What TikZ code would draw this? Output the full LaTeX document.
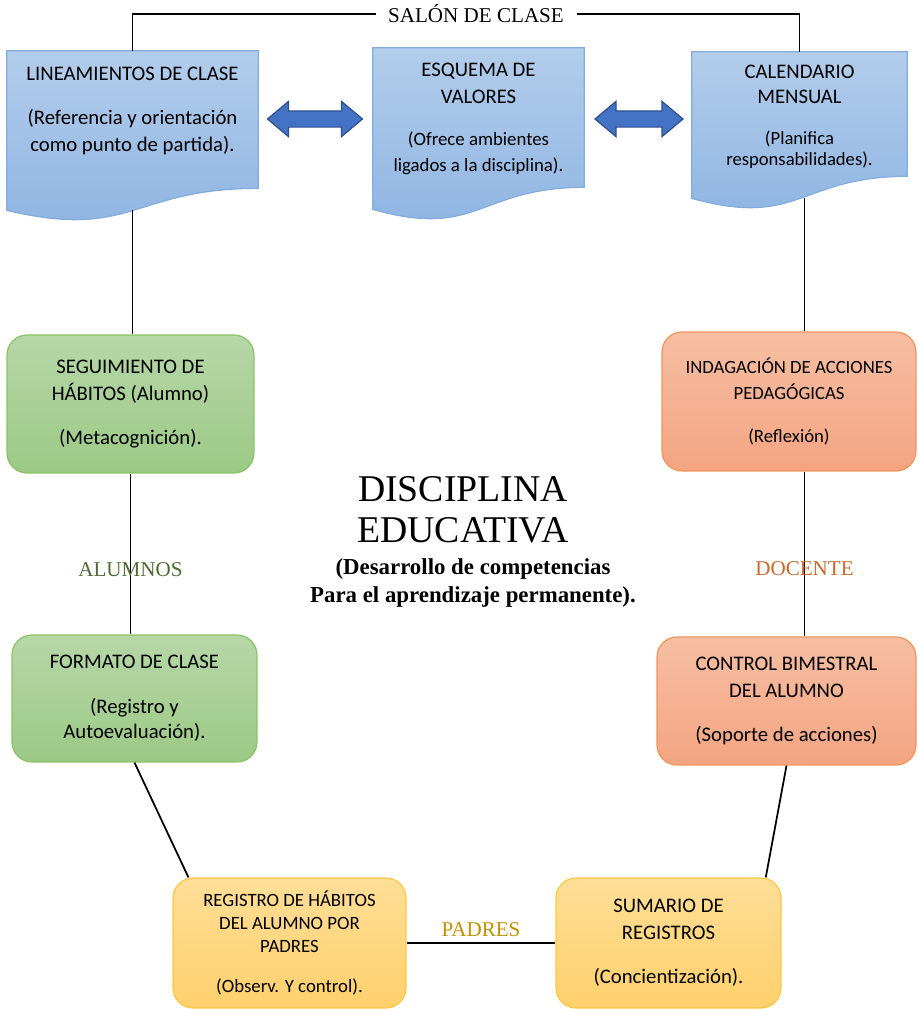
\documentclass[tikz,border=0pt]{standalone}
\usepackage{fontspec}
\setmainfont{Liberation Serif}
\newfontfamily\boxfont{Carlito}
\usetikzlibrary{shapes.arrows,positioning,calc}
\definecolor{bluetop}{HTML}{B3CDEB}
\definecolor{bluebot}{HTML}{8DB3E2}
\definecolor{blueline}{HTML}{84ACDD}
\definecolor{greentop}{HTML}{B6D7A8}
\definecolor{greenbot}{HTML}{9CC985}
\definecolor{greenline}{HTML}{8CC168}
\definecolor{orangetop}{HTML}{F6BEA2}
\definecolor{orangebot}{HTML}{F4A582}
\definecolor{orangeline}{HTML}{F0955A}
\definecolor{yellowtop}{HTML}{FFDE97}
\definecolor{yellowbot}{HTML}{FFD06C}
\definecolor{yellowline}{HTML}{FBC745}
\definecolor{arrowblue}{HTML}{4472C4}
\definecolor{arrowline}{HTML}{2F528F}
\definecolor{alumgreen}{HTML}{4F6B33}
\definecolor{docorange}{HTML}{C8682C}
\definecolor{padgold}{HTML}{BF9000}
\tikzset{
  box/.style={align=center, inner sep=2pt, font=\boxfont\fontsize{11.8}{15.3}\selectfont},
  roundbox/.style={box, rounded corners=0.4cm, line width=0.7pt},
  greenbox/.style={roundbox, draw=greenline, top color=greentop, bottom color=greenbot},
  orangebox/.style={roundbox, draw=orangeline, top color=orangetop, bottom color=orangebot},
  yellowbox/.style={roundbox, draw=yellowline, top color=yellowtop, bottom color=yellowbot},
  docgeom/.style={inner sep=0pt},
  docfill/.style={draw=blueline, line width=0.7pt, top color=bluetop, bottom color=bluebot},
  dblarrow/.style={double arrow, double arrow head extend=0.19cm, double arrow tip angle=80,
                   inner xsep=0pt, inner ysep=0.15cm, fill=arrowblue, draw=arrowline, line width=0.7pt},
  lab/.style={font=\fontsize{12}{14}\selectfont},
  conn/.style={line width=1pt},
}
\newcommand{\docshape}[1]{\path[docfill] (#1.north west) -- (#1.north east) -- ([yshift=0.44cm]#1.south east)
  .. controls ([yshift=0.44cm]#1.south) and ([yshift=-0.6cm]#1.south) .. (#1.south west) -- cycle;}
\begin{document}
\begin{tikzpicture}[x=0.02cm, y=-0.02cm]
\useasboundingbox (0,0) rectangle (918,1009);
% documentos de arriba
\node[docgeom, minimum width=5.02cm, minimum height=3.18cm] (lin) at (132.5,130.5) {};
\node[docgeom, minimum width=4.22cm, minimum height=3.22cm] (esq) at (478.5,128.5) {};
\node[docgeom, minimum width=4.30cm, minimum height=2.92cm] (cal) at (799.5,125) {};
\docshape{lin}
\docshape{esq}
\docshape{cal}
\node[box, below=0.26cm of lin.north] (linT) {LINEAMIENTOS DE CLASE\\[9.7pt](Referencia y orientación\\como punto de partida).};
\node[box, below=0.24cm of esq.north] (esqT) {ESQUEMA DE\\VALORES\\[8.5pt]\fontsize{10.7}{12}\selectfont(Ofrece ambientes\\[-0.6pt]\fontsize{10.7}{12}\selectfont ligados a la disciplina).};
\node[box, font=\boxfont\fontsize{11.8}{14.2}\selectfont, below=0.2cm of cal.north] (calT) {CALENDARIO\\MENSUAL\\[9pt]\fontsize{10.6}{12}\selectfont(Planifica\\[-2.3pt]\fontsize{10.6}{12}\selectfont responsabilidades).};
\node[dblarrow, minimum height=1.9cm] (arr1) at (315,119) {};
\node[dblarrow, minimum height=1.76cm] (arr2) at (639,119) {};
\node[lab, inner xsep=7pt] (salon) at (476,14) {SALÓN DE CLASE};
% cuadros de los lados
\node[greenbox, minimum width=4.94cm, minimum height=2.76cm] (seg) at (130.5,404) {SEGUIMIENTO DE\\HÁBITOS (Alumno)\\[10pt](Metacognición).};
\node[greenbox, minimum width=4.90cm, minimum height=2.54cm] (form) at (134.5,698.5) {FORMATO DE CLASE\\[10pt](Registro y\\[-0.6pt]Autoevaluación).};
\node[orangebox, font=\boxfont\fontsize{10.65}{14.7}\selectfont, minimum width=5.08cm, minimum height=2.78cm] (ind) at (789,401.5) {INDAGACIÓN DE ACCIONES\\PEDAGÓGICAS\\[9.7pt](Reflexión)};
\node[orangebox, minimum width=5.18cm, minimum height=2.56cm] (ctrl) at (786.5,701) {CONTROL BIMESTRAL\\DEL ALUMNO\\[10pt](Soporte de acciones)};
\node[yellowbox, font=\boxfont\fontsize{10.7}{13.3}\selectfont, minimum width=4.66cm, minimum height=2.6cm] (reg) at (289.5,943) {REGISTRO DE HÁBITOS\\DEL ALUMNO POR\\PADRES\\[9.4pt](Observ. Y control).};
\node[yellowbox, minimum width=4.5cm, minimum height=2.6cm] (sum) at (668.5,943) {SUMARIO DE\\REGISTROS\\[10pt](Concientización).};
% centro
\node[font=\fontsize{21.5}{23.2}\selectfont, align=center] (disc) at (463,510) {DISCIPLINA\\EDUCATIVA};
\node[font=\bfseries\fontsize{13}{15.9}\selectfont, align=center] (dsub) at (473,583) {(Desarrollo de competencias\\Para el aprendizaje permanente).};
% lineas
\draw[conn] (lin.north) |- (salon.west);
\draw[conn] (salon.east) -| (cal.north);
\draw[conn] (lin.south) -- (lin.south |- seg.north);
\draw[conn] ([xshift=0.1cm]cal.south) -- ([xshift=0.1cm]cal.south |- ind.north);
\draw[conn] (seg.south) -- node[lab, pos=0.6, text=alumgreen]{ALUMNOS} (seg.south |- form.north);
\draw[conn] ([xshift=0.1cm]ind.south -| cal.south) -- node[lab, pos=0.59, text=docorange]{DOCENTE} ([xshift=0.1cm]ctrl.north -| cal.south);
\draw[conn] (form.south) -- (reg.147);
\draw[conn] (ctrl.south) -- (sum.34);
\draw[conn] (reg.east) -- node[lab, above, text=padgold]{PADRES} (sum.west);
\end{tikzpicture}
\end{document}
